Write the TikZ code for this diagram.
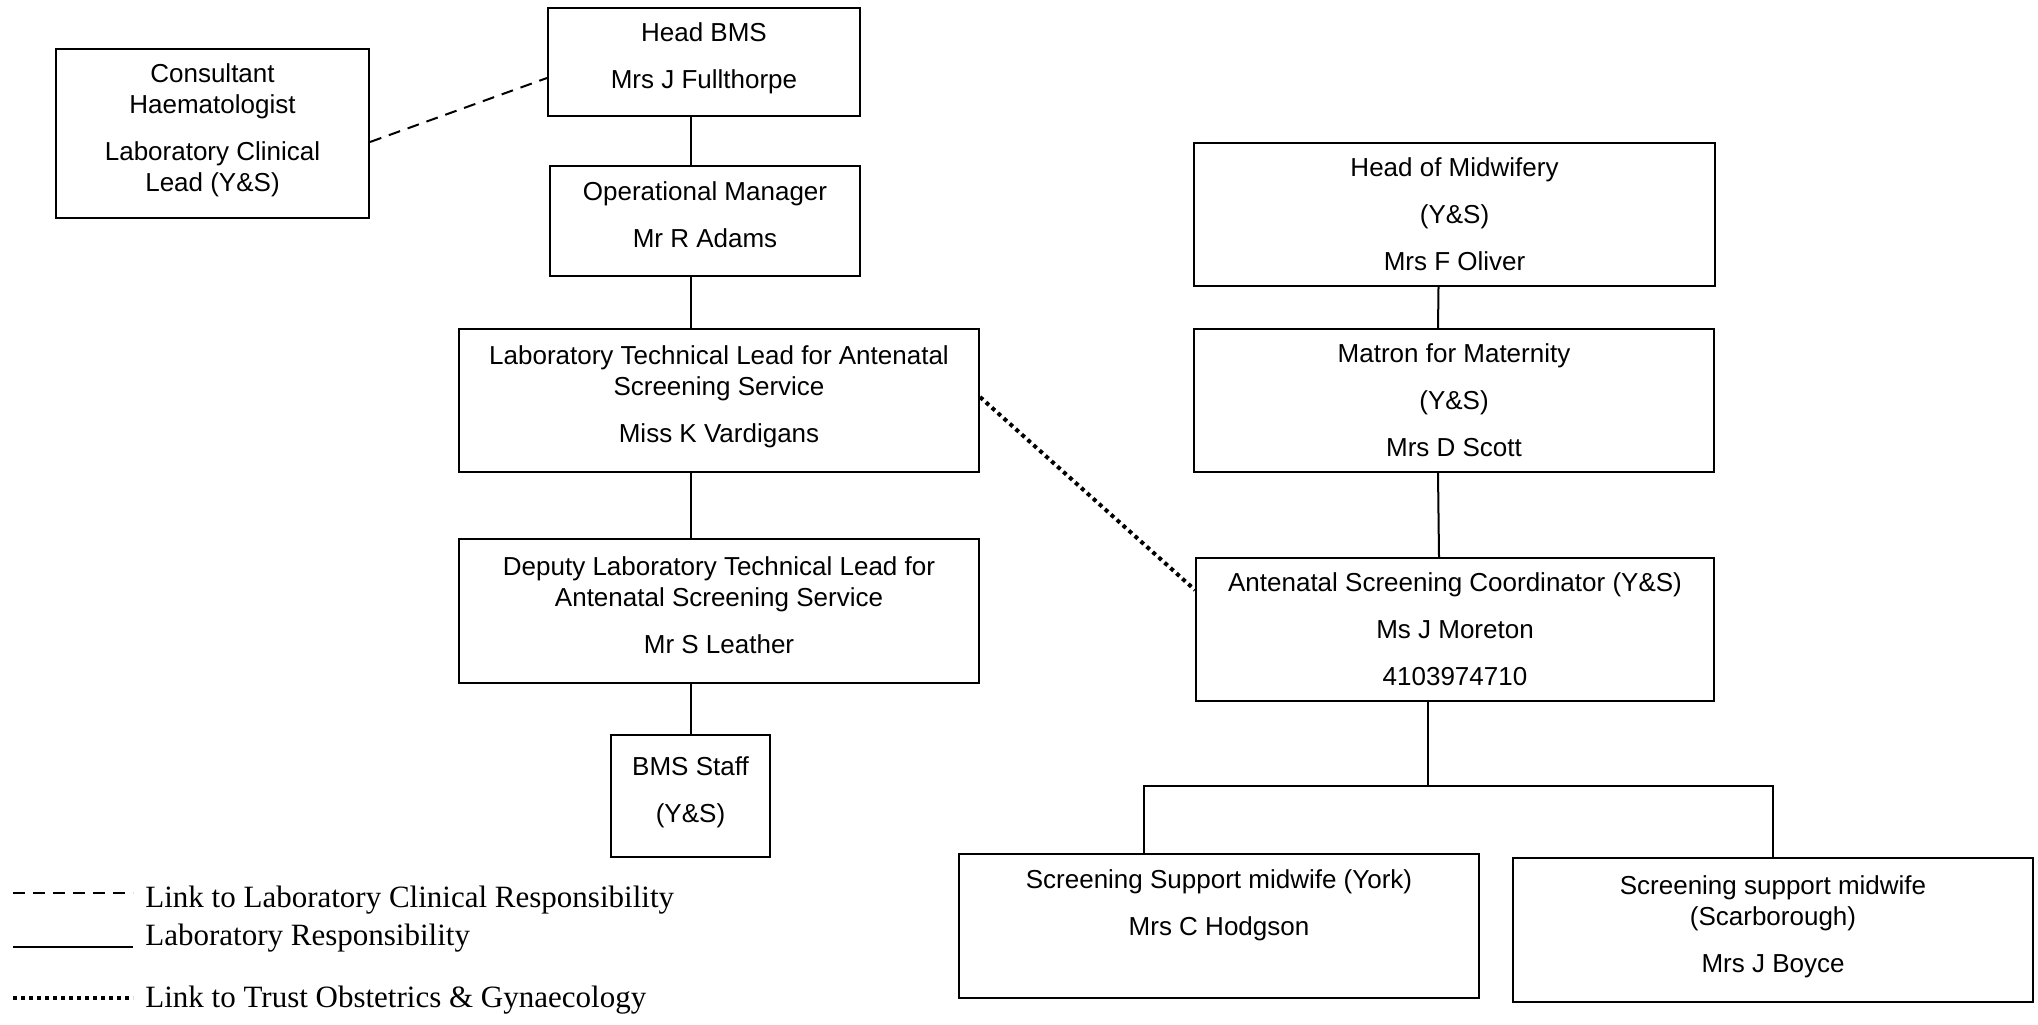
\documentclass[tikz,border=0pt]{standalone}
\usepackage{fontspec}
\setmainfont{Liberation Sans}
\newfontfamily\legendfont{Liberation Serif}

\begin{document}
\begin{tikzpicture}[x=0.5pt,y=-0.5pt,
    unit/.style={draw,line width=1pt,inner sep=0pt,align=center,
        font=\fontsize{13}{15.5}\selectfont},
    lift/.style={execute at end node={\rule[-6pt]{0pt}{6pt}}},
    solidlink/.style={line width=1pt},
    dashlink/.style={line width=1pt,dash pattern=on 6pt off 4pt},
    dotlink/.style={line width=2pt,dash pattern=on 2pt off 2pt}]
    \useasboundingbox (0,0) rectangle (2038,1024);

    % laboratory side
    \node [unit,lift,minimum width=156.5pt,minimum height=84.5pt] (cons) at (212.5,133.5)
        {Consultant\\Haematologist\\[8pt]Laboratory Clinical\\Lead (Y\&S)};
    \node [unit,lift,minimum width=156pt,minimum height=54pt] (hbms) at (704,62)
        {Head BMS\\[8pt]Mrs J Fullthorpe};
    \node [unit,lift,minimum width=155pt,minimum height=55pt] (opm) at (705,221)
        {Operational Manager\\[8pt]Mr R Adams};
    \node [unit,lift,minimum width=260pt,minimum height=71.5pt] (ltl) at (719,400.5)
        {Laboratory Technical Lead for Antenatal\\Screening Service\\[8pt]Miss K Vardigans};
    \node [unit,lift,minimum width=260pt,minimum height=72pt] (dltl) at (719,611)
        {Deputy Laboratory Technical Lead for\\Antenatal Screening Service\\[8pt]Mr S Leather};
    \node [unit,lift,minimum width=79.5pt,minimum height=61pt] (bms) at (690.5,796)
        {BMS Staff\\[8pt](Y\&S)};

    % maternity side
    \node [unit,minimum width=260.5pt,minimum height=71.5pt] (hom) at (1454.5,214.5)
        {Head of Midwifery\\[8pt](Y\&S)\\[8pt]Mrs F Oliver};
    \node [unit,minimum width=260pt,minimum height=71.5pt] (mat) at (1454,400.5)
        {Matron for Maternity\\[8pt](Y\&S)\\[8pt]Mrs D Scott};
    \node [unit,minimum width=259pt,minimum height=71.5pt] (asc) at (1455,629.5)
        {Antenatal Screening Coordinator (Y\&S)\\[8pt]Ms J Moreton\\[8pt]4103974710};
    \node [unit,lift,minimum width=260pt,minimum height=72pt] (ssy) at (1219,926)
        {Screening Support midwife (York)\\[8pt]Mrs C Hodgson\\[2pt]\phantom{M}};
    \node [unit,lift,minimum width=260pt,minimum height=72pt] (ssc) at (1773,930)
        {Screening support midwife\\(Scarborough)\\[8pt]Mrs J Boyce};

    % lines of responsibility
    \draw [solidlink] (hbms.south -| bms.north) -- (opm.north -| bms.north);
    \draw [solidlink] (opm.south -| bms.north) -- (ltl.north -| bms.north);
    \draw [solidlink] (ltl.south -| bms.north) -- (dltl.north -| bms.north);
    \draw [solidlink] (dltl.south -| bms.north) -- (bms.north);
    \draw [solidlink] ([xshift=-8pt]hom.south) -- ([xshift=-8pt]mat.north);
    \draw [solidlink] ([xshift=-8pt]mat.south) -- ([xshift=-8pt]asc.north);
    \path ([xshift=-13.5pt]asc.south) ++(0,84) coordinate (fork);
    \draw [solidlink] ([xshift=-13.5pt]asc.south) -- (fork);
    \draw [solidlink] ([xshift=-37.5pt]ssy.north) |- (fork) -| (ssc.north);

    % links
    \draw [dashlink] ([yshift=-4.25pt]cons.east) -- ([yshift=-8pt]hbms.west);
    \draw [dotlink] ([yshift=1.75pt]ltl.east) -- ([yshift=19.75pt]asc.west);

    % key
    \begin{scope}[font=\legendfont\fontsize{15.5}{18}\selectfont]
    \draw [dashlink] (13,893) -- (133,893);
    \node [anchor=base west,inner sep=0pt] (keyclin) at (145,907)
        {Link to Laboratory Clinical Responsibility};
    \draw [solidlink] (13,947) -- (133,947);
    \node [anchor=base west,inner sep=0pt] (keylab) at (145,945)
        {Laboratory Responsibility};
    \draw [dotlink] (13,998) -- (133,998);
    \node [anchor=base west,inner sep=0pt] (keyobs) at (145,1007)
        {Link to Trust Obstetrics \& Gynaecology};
    \end{scope}
\end{tikzpicture}
\end{document}
